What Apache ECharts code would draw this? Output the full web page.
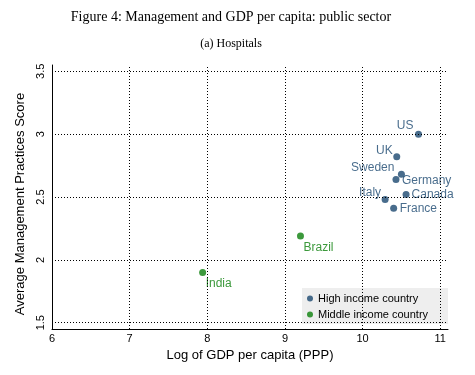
<!DOCTYPE html>
<html>
<head>
<meta charset="utf-8">
<script src="https://cdn.jsdelivr.net/npm/echarts@6/dist/echarts.min.js"></script>
<style>
  html, body { margin: 0; padding: 0; background: #fff; }
  #chart { width: 475px; height: 375px; }
</style>
</head>
<body>
<div id="chart"></div>
<script>
// data
var countries = ['US', 'UK', 'Sweden', 'Germany', 'Canada', 'Italy', 'France', 'Brazil', 'India']
var logGdp = [10.72, 10.44, 10.50, 10.43, 10.56, 10.29, 10.40, 9.20, 7.94]
var score = [3.00, 2.82, 2.68, 2.64, 2.52, 2.48, 2.41, 2.19, 1.90]
var group = ['High', 'High', 'High', 'High', 'High', 'High', 'High', 'Middle', 'Middle']
var groupNames = { High: 'High income country', Middle: 'Middle income country' }
var xTicks = [6, 7, 8, 9, 10, 11]
var yTicks = [1.5, 2, 2.5, 3, 3.5]

// label placement around each dot: [position, distance, dx, dy]
var labelPlace = {
    US: ['left', 1.5, 0, -8],
    UK: ['left', 0.5, 0, -6],
    Sweden: ['left', 3.5, 0, -7],
    Germany: ['right', 2.5, 0, 1],
    Canada: ['right', 2, 0, 0],
    Italy: ['left', 0.5, 0, -7],
    France: ['right', 2.5, 0, 0],
    Brazil: ['right', 2.5, -3, 12],
    India: ['right', 2.5, -3, 11]
}

var colors = { High: '#1a476f', Middle: '#0b800b' }
var sans = 'Liberation Sans, Arial, sans-serif'

function points(g) {
    var out = []
    for (var i = 0; i < countries.length; i++) {
        if (group[i] !== g) continue
        var n = countries[i]
        var p = labelPlace[n]
        out.push({
            name: n,
            value: [logGdp[i], score[i]],
            label: { show: true, position: p[0], distance: p[1], offset: [p[2], p[3]] }
        })
    }
    return out
}

var gridLines = xTicks.map(function (v) { return { xAxis: v } })
    .concat(yTicks.map(function (v) { return { yAxis: v } }))

var myChart = echarts.init(document.getElementById('chart'))
myChart.setOption({
    animation: false,
    title: [{
        text: 'Figure 4: Management and GDP per capita: public sector',
        left: 226, top: 5, textAlign: 'center',
        textStyle: { fontFamily: 'Liberation Serif, serif', fontWeight: 'normal', fontSize: 14, color: '#000' }
    }, {
        text: '(a) Hospitals',
        left: 226, top: 33, textAlign: 'center',
        textStyle: { fontFamily: 'Liberation Serif, serif', fontWeight: 'normal', fontSize: 12, color: '#000' }
    }],
    legend: {
        orient: 'vertical',
        left: 302, top: 288,
        backgroundColor: '#eeeeee',
        padding: [5, 20, 4, 5],
        itemGap: 5,
        itemWidth: 6, itemHeight: 6,
        icon: 'circle',
        textStyle: { fontFamily: sans, fontSize: 11, color: '#000' },
        data: [groupNames.High, groupNames.Middle]
    },
    grid: { left: 52, right: 27, top: 65, bottom: 46 },
    xAxis: {
        type: 'value',
        min: 6, max: 11.1, interval: 1,
        name: 'Log of GDP per capita (PPP)',
        nameLocation: 'middle', nameGap: 17,
        nameTextStyle: { fontFamily: sans, fontSize: 13, color: '#000' },
        axisLine: { lineStyle: { color: '#000', width: 1 } },
        axisTick: { show: false },
        splitLine: { show: false },
        axisLabel: { showMaxLabel: false, margin: 4, fontFamily: sans, fontSize: 11, color: '#000' }
    },
    yAxis: {
        type: 'value',
        min: 1.45, max: 3.55, interval: 0.05,
        name: 'Average Management Practices Score',
        nameLocation: 'middle', nameGap: 20,
        nameTextStyle: { fontFamily: sans, fontSize: 13, color: '#000', padding: [0, 14, 0, 0] },
        axisLine: { show: true, lineStyle: { color: '#000', width: 1 } },
        axisTick: { show: false },
        splitLine: { show: false },
        axisLabel: {
            rotate: 90, margin: 6,
            fontFamily: sans, fontSize: 11, color: '#000',
            formatter: function (v) {
                var ok = yTicks.some(function (t) { return Math.abs(t - v) < 1e-6 })
                return ok ? String(Math.round(v * 10) / 10) : ''
            }
        }
    },
    series: [{
        name: groupNames.High,
        type: 'scatter',
        symbolSize: 7,
        itemStyle: { color: colors.High },
        label: { formatter: '{b}', fontFamily: sans, fontSize: 12, color: colors.High },
        data: points('High'),
        markLine: {
            silent: true,
            symbol: 'none',
            label: { show: false },
            lineStyle: { color: '#000', width: 1, type: [1, 2] },
            data: gridLines
        }
    }, {
        name: groupNames.Middle,
        type: 'scatter',
        symbolSize: 7,
        itemStyle: { color: colors.Middle },
        label: { formatter: '{b}', fontFamily: sans, fontSize: 12, color: colors.Middle },
        data: points('Middle')
    }]
})
</script>
</body>
</html>
